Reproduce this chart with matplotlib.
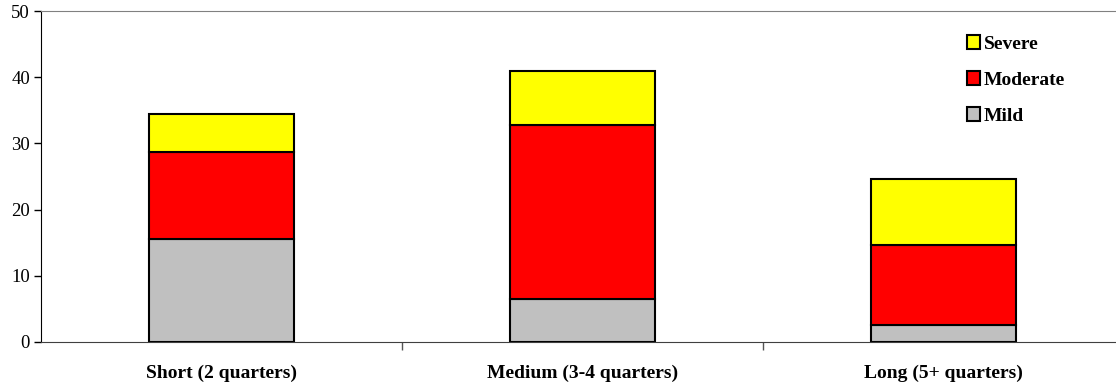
import matplotlib
matplotlib.use("Agg")
import matplotlib.pyplot as plt
import numpy as np

categories = ["Short (2 quarters)", "Medium (3-4 quarters)", "Long (5+ quarters)"]
mild = [15.5, 6.5, 2.5]
moderate = [13.2, 26.3, 12.2]
severe = [5.7, 8.1, 9.9]

plt.rcParams['font.family'] = ['Liberation Serif', 'DejaVu Serif']

fig = plt.figure(figsize=(11.16, 3.86), dpi=100)
ax = fig.add_axes([41/1116, 44/386, 1083/1116, 331/386])

x = np.arange(len(categories))
w = 0.4
mild = np.array(mild)
moderate = np.array(moderate)
severe = np.array(severe)

b1 = ax.bar(x, mild, w, color='#c0c0c0', edgecolor='black', linewidth=1.5, label='Mild')
b2 = ax.bar(x, moderate, w, bottom=mild, color='#ff0000', edgecolor='black', linewidth=1.5, label='Moderate')
b3 = ax.bar(x, severe, w, bottom=mild+moderate, color='#ffff00', edgecolor='black', linewidth=1.5, label='Severe')

ax.set_xlim(-0.5, 2.5)
ax.set_ylim(0, 50)
ax.set_yticks(range(0, 51, 10))
ax.tick_params(axis='y', labelsize=13.5, length=5, width=1, direction='out', pad=3)

# category labels sit between the boundary ticks
ax.set_xticks([0.5, 1.5], minor=False)
ax.set_xticklabels([])
ax.set_xticks(x, minor=True)
ax.set_xticklabels(categories, minor=True, fontweight='bold', fontsize=14)
ax.tick_params(axis='x', which='major', length=6, width=1, color='#555555')
ax.tick_params(axis='x', which='minor', length=0, pad=16)

ax.spines['right'].set_visible(False)
ax.spines['top'].set_color('#808080')
ax.spines['left'].set_color('black')
ax.spines['bottom'].set_color('#404040')

handles = [b3, b2, b1]
ax.legend(handles, [h.get_label() for h in handles], loc='upper right',
          bbox_to_anchor=(0.962, 0.98), frameon=False,
          prop={'weight': 'bold', 'size': 14}, handlelength=0.7, handleheight=0.7,
          handletextpad=0.2, labelspacing=0.95)

fig.savefig("out.png", dpi=100)
